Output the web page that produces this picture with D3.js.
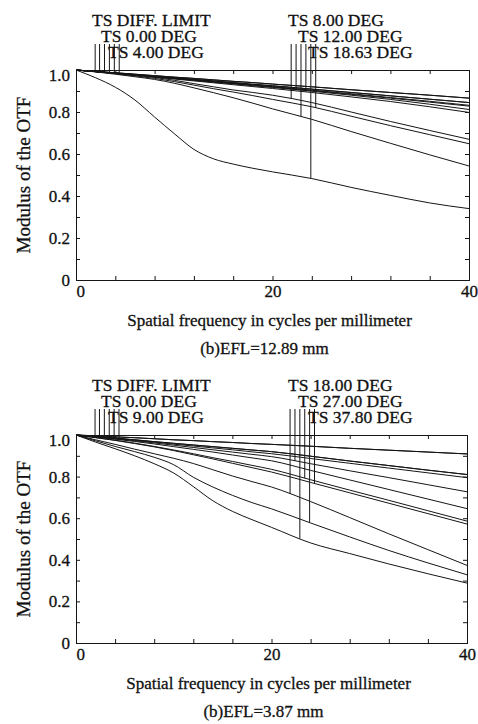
<!DOCTYPE html>
<html>
<head>
<meta charset="utf-8">
<script src="https://cdn.jsdelivr.net/npm/d3@7"></script>
<style>
  body { margin: 0; background: #fff; }
  svg text { font-family: "Liberation Serif", Tinos, "Times New Roman", Times, "DejaVu Serif", "Noto Serif", serif; fill: #111; stroke: #111; stroke-width: 0.3px; }
</style>
</head>
<body>
<svg id="mtf" width="478" height="724"></svg>
<script>
// spatial frequency samples (cycles/mm) shared by every curve
const freqs = [0, 2, 4, 6, 8, 10, 12, 14, 16, 18, 20, 24, 28, 32, 36, 40];
const xMinorTicks = [0, 4, 8, 12, 16, 20, 24, 28, 32, 36, 40];
const xTickLabels = [0, 20, 40];
const yMinorTicks = [0, 0.1, 0.2, 0.3, 0.4, 0.5, 0.6, 0.7, 0.8, 0.9, 1.0];
const yTickLabels = { 0: "0", 0.2: "0.2", 0.4: "0.4", 0.6: "0.6", 0.8: "0.8", 1: "1.0" };
// frequency where each curve's label line is drawn (T,S per field)
const markerFreqs = [1.95, 2.4, 2.9, 3.4, 3.9, 4.4, 21.9, 22.4, 22.9, 23.4, 23.9, 24.4];

// chart (a): EFL = 12.89 mm
const fieldsA = ["DIFF. LIMIT", "0.00 DEG", "4.00 DEG", "8.00 DEG", "12.00 DEG", "18.63 DEG"];
const mtfA = [
  [1, 0.993, 0.987, 0.980, 0.973, 0.966, 0.960, 0.953, 0.946, 0.940, 0.933, 0.920, 0.906, 0.893, 0.880, 0.866], // diff T
  [1, 0.993, 0.987, 0.980, 0.973, 0.966, 0.960, 0.953, 0.946, 0.940, 0.933, 0.920, 0.906, 0.893, 0.880, 0.866], // diff S
  [1, 0.993, 0.985, 0.978, 0.970, 0.963, 0.955, 0.948, 0.940, 0.932, 0.925, 0.909, 0.893, 0.877, 0.861, 0.845], // 0 T
  [1, 0.993, 0.985, 0.978, 0.970, 0.963, 0.955, 0.948, 0.940, 0.932, 0.925, 0.909, 0.893, 0.877, 0.861, 0.845], // 0 S
  [1, 0.992, 0.985, 0.977, 0.969, 0.961, 0.953, 0.945, 0.937, 0.929, 0.921, 0.904, 0.887, 0.869, 0.851, 0.832], // 4 T
  [1, 0.992, 0.984, 0.976, 0.968, 0.960, 0.952, 0.944, 0.936, 0.928, 0.919, 0.902, 0.884, 0.866, 0.847, 0.828], // 4 S
  [1, 0.993, 0.985, 0.976, 0.965, 0.951, 0.935, 0.920, 0.905, 0.893, 0.880, 0.845, 0.800, 0.755, 0.712, 0.670], // 8 T
  [1, 0.992, 0.984, 0.976, 0.968, 0.959, 0.951, 0.942, 0.934, 0.925, 0.917, 0.899, 0.880, 0.860, 0.837, 0.812], // 8 S
  [1, 0.991, 0.980, 0.968, 0.955, 0.937, 0.915, 0.892, 0.868, 0.842, 0.815, 0.765, 0.707, 0.651, 0.596, 0.543], // 12 T
  [1, 0.992, 0.983, 0.975, 0.966, 0.957, 0.948, 0.939, 0.930, 0.921, 0.912, 0.893, 0.872, 0.850, 0.825, 0.798], // 12 S
  [1, 0.963, 0.918, 0.857, 0.776, 0.697, 0.622, 0.577, 0.552, 0.532, 0.515, 0.483, 0.441, 0.403, 0.367, 0.340], // 18.63 T
  [1, 0.992, 0.983, 0.972, 0.960, 0.945, 0.928, 0.911, 0.895, 0.878, 0.860, 0.825, 0.780, 0.735, 0.692, 0.649]  // 18.63 S
];

// chart (b): EFL = 3.87 mm
const fieldsB = ["DIFF. LIMIT", "0.00 DEG", "9.00 DEG", "18.00 DEG", "27.00 DEG", "37.80 DEG"];
const mtfB = [
  [1, 0.996, 0.991, 0.987, 0.982, 0.977, 0.973, 0.968, 0.964, 0.959, 0.955, 0.946, 0.936, 0.927, 0.918, 0.909], // diff T
  [1, 0.996, 0.991, 0.987, 0.982, 0.977, 0.973, 0.968, 0.964, 0.959, 0.955, 0.946, 0.936, 0.927, 0.918, 0.909], // diff S
  [1, 0.993, 0.985, 0.977, 0.968, 0.960, 0.952, 0.944, 0.936, 0.928, 0.920, 0.898, 0.875, 0.853, 0.831, 0.810], // 0 T
  [1, 0.993, 0.985, 0.977, 0.968, 0.960, 0.952, 0.944, 0.936, 0.928, 0.920, 0.898, 0.875, 0.853, 0.831, 0.810], // 0 S
  [1, 0.990, 0.980, 0.969, 0.957, 0.944, 0.931, 0.918, 0.904, 0.890, 0.876, 0.830, 0.784, 0.738, 0.692, 0.646], // 9 T
  [1, 0.992, 0.984, 0.975, 0.966, 0.956, 0.947, 0.938, 0.929, 0.919, 0.910, 0.887, 0.864, 0.841, 0.818, 0.795], // 9 S
  [1, 0.977, 0.955, 0.932, 0.910, 0.888, 0.863, 0.833, 0.803, 0.776, 0.750, 0.680, 0.603, 0.525, 0.449, 0.373], // 18 T
  [1, 0.991, 0.982, 0.972, 0.962, 0.951, 0.940, 0.929, 0.918, 0.907, 0.896, 0.862, 0.828, 0.795, 0.761, 0.727], // 18 S
  [1, 0.966, 0.934, 0.900, 0.862, 0.817, 0.752, 0.684, 0.633, 0.593, 0.556, 0.481, 0.430, 0.380, 0.333, 0.288], // 27 T
  [1, 0.988, 0.975, 0.961, 0.945, 0.928, 0.910, 0.891, 0.873, 0.854, 0.835, 0.785, 0.735, 0.686, 0.636, 0.586], // 27 S
  [1, 0.972, 0.945, 0.920, 0.893, 0.857, 0.797, 0.750, 0.710, 0.675, 0.645, 0.577, 0.510, 0.445, 0.385, 0.328], // 37.8 T
  [1, 0.987, 0.974, 0.959, 0.943, 0.925, 0.905, 0.885, 0.864, 0.843, 0.822, 0.772, 0.722, 0.672, 0.622, 0.572]  // 37.8 S
];

const charts = [
  { fields: fieldsA, mtf: mtfA, efl: "(b)EFL=12.89 mm", top: 70, bottom: 280, left: 76, right: 469 },
  { fields: fieldsB, mtf: mtfB, efl: "(b)EFL=3.87 mm", top: 435, bottom: 643, left: 76, right: 467 }
];

const serif = '"Liberation Serif", Tinos, "Times New Roman", Times, "DejaVu Serif", "Noto Serif", serif';
const svg = d3.select("svg#mtf");
const ink = "#151515";

charts.forEach(c => drawChart(c));

function drawChart(c) {
  const g = svg.append("g");

  const x = d3.scaleLinear().domain([0, 40]).range([c.left, c.right]);
  const y = d3.scaleLinear().domain([0, 1]).range([c.bottom, c.top]);

  // inward ticks on all four sides
  const bottomAxis = g.append("g")
    .attr("transform", `translate(0,${c.bottom})`)
    .call(d3.axisBottom(x).tickValues(xMinorTicks).tickSizeInner(-4).tickSizeOuter(0)
      .tickPadding(5).tickFormat(d => xTickLabels.includes(d) ? d : ""));
  bottomAxis.selectAll("text").filter(d => d === 0).attr("text-anchor", "start");

  g.append("g")
    .attr("transform", `translate(0,${c.top})`)
    .call(d3.axisTop(x).tickValues(xMinorTicks).tickSizeInner(-4).tickSizeOuter(0).tickFormat(""));

  const leftAxis = g.append("g")
    .attr("transform", `translate(${c.left},0)`)
    .call(d3.axisLeft(y).tickValues(yMinorTicks).tickSizeInner(-4).tickSizeOuter(0)
      .tickPadding(6).tickFormat(d => yTickLabels[Math.round(d * 10) / 10] || ""));
  leftAxis.selectAll("text").filter(d => d === 1).attr("dy", "0.6em");

  g.append("g")
    .attr("transform", `translate(${c.right},0)`)
    .call(d3.axisRight(y).tickValues(yMinorTicks).tickSizeInner(-4).tickSizeOuter(0).tickFormat(""));

  g.selectAll(".domain").remove();
  g.selectAll(".tick line").attr("stroke", ink);
  g.selectAll(".tick text")
    .attr("fill", ink)
    .style("font-family", serif)
    .style("font-size", "17px");

  // plot frame
  g.append("rect")
    .attr("x", c.left + 0.5).attr("y", c.top + 0.5)
    .attr("width", c.right - c.left).attr("height", c.bottom - c.top)
    .attr("fill", "none").attr("stroke", ink).attr("stroke-width", 1);

  // MTF curves
  const line = d3.line()
    .x((v, i) => x(freqs[i]))
    .y(v => y(v))
    .curve(d3.curveMonotoneX);

  g.selectAll("path.curve")
    .data(c.mtf)
    .join("path")
    .attr("class", "curve")
    .attr("d", d => line(d))
    .attr("fill", "none")
    .attr("stroke", ink)
    .attr("stroke-width", 1);

  // label lines from each curve up towards the legend
  g.selectAll("line.marker")
    .data(c.mtf)
    .join("line")
    .attr("class", "marker")
    .attr("x1", (d, i) => x(markerFreqs[i]))
    .attr("x2", (d, i) => x(markerFreqs[i]))
    .attr("y1", (d, i) => y(d3.scaleLinear().domain(freqs).range(d)(markerFreqs[i])))
    .attr("y2", c.top - 26)
    .attr("stroke", ink)
    .attr("stroke-width", 1);

  // legend, two columns of three rows
  const legendX = [92, 101, 108, 288, 298, 308];
  g.selectAll("text.legend")
    .data(c.fields)
    .join("text")
    .attr("class", "legend")
    .attr("x", (d, i) => legendX[i])
    .attr("y", (d, i) => c.top - 44 + (i % 3) * 16)
    .style("font-family", serif)
    .style("font-size", "17.5px")
    .text(d => "TS " + d);

  // axis titles
  g.append("text")
    .attr("transform", `translate(30,${(c.top + c.bottom) / 2}) rotate(-90)`)
    .attr("text-anchor", "middle")
    .style("font-family", serif)
    .style("font-size", "19px")
    .text("Modulus of the OTF");

  g.append("text")
    .attr("x", (c.left + c.right) / 2 - 3)
    .attr("y", c.bottom + 46)
    .attr("text-anchor", "middle")
    .style("font-family", serif)
    .style("font-size", "17px")
    .text("Spatial frequency in cycles per millimeter");

  g.append("text")
    .attr("x", (c.left + c.right) / 2 - 8)
    .attr("y", c.bottom + 74)
    .attr("text-anchor", "middle")
    .style("font-family", serif)
    .style("font-size", "17px")
    .text(c.efl);
}
</script>
</body>
</html>
